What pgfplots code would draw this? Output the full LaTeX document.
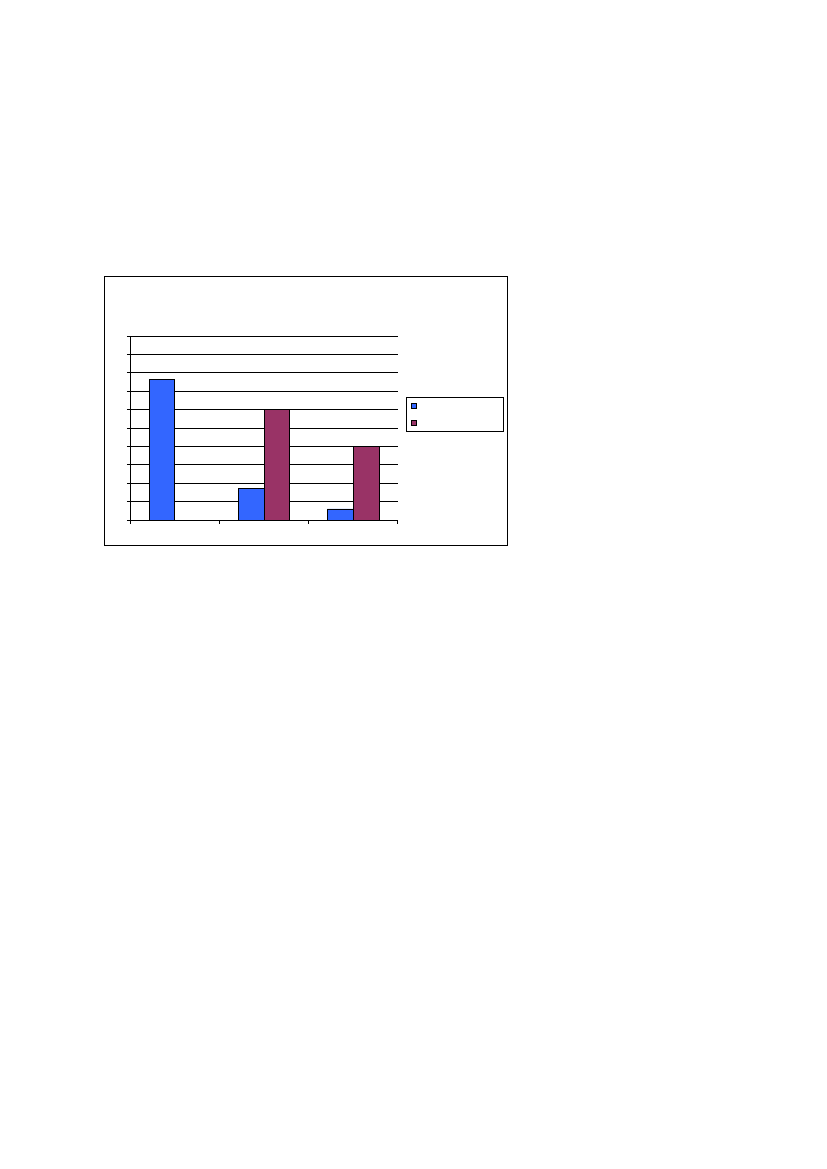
\documentclass[border=0pt]{standalone}
\usepackage{pgfplots}
\pgfplotsset{compat=1.18}
\definecolor{barblue}{HTML}{3366FF}
\definecolor{barred}{HTML}{993366}
\pgfplotsset{
  sqlegend/.style={legend image code/.code={\draw[##1, line width=0.75pt] (0bp,-2.3bp) rectangle (4.6bp,2.3bp);}},
}
\begin{document}
\begin{tikzpicture}[x=1bp, y=-1bp]
  \useasboundingbox (0,0) rectangle (827,1169);
  % chart frame
  \draw[black, line width=0.75pt] (104,276) rectangle (507.3,545);
  \begin{axis}[
      scale only axis,
      width=267.4bp, height=184bp,
      at={(130.3bp,-520bp)}, anchor=south west,
      ybar=0pt, bar width=0.289,
      xmin=-0.5, xmax=2.5, ymin=0, ymax=10,
      xtick={-0.5,0.5,1.5,2.5}, ytick={0,1,...,10},
      xticklabels={}, yticklabels={},
      axis x line*=bottom, axis y line*=left,
      tick align=outside, major tick length=3.5bp,
      ymajorgrids,
      grid style={black, line width=0.75pt},
      axis line style={black, line width=0.75pt},
      tick style={black, line width=0.75pt},
      every axis plot post/.append style={sqlegend},
      legend style={at={(1.0322,0.6685)}, anchor=north west,
        draw=black, line width=0.75pt, inner xsep=4.4bp, inner ysep=0pt,
        row sep=0pt, column sep=0pt,
        nodes={inner sep=0pt, minimum height=17.15bp}},
      legend cell align=left,
    ]
    \addplot[fill=barblue, draw=black, line width=0.75pt] coordinates {(0,7.66) (1,1.72) (2,0.6)};
    \addlegendentry{\parbox{83bp}{\strut}}
    \addplot[fill=barred, draw=black, line width=0.75pt] coordinates {(1,6) (2,4)};
    \addlegendentry{\parbox{83bp}{\strut}}
  \end{axis}
\end{tikzpicture}
\end{document}
